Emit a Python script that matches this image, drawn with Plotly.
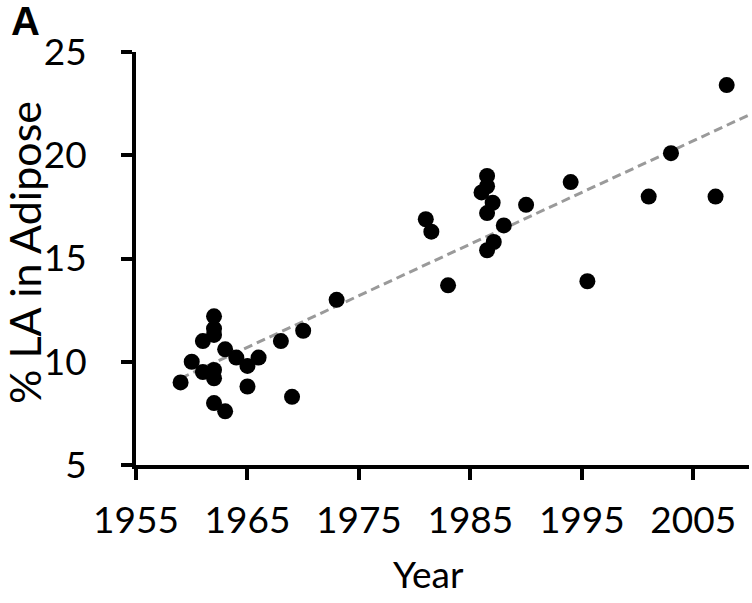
import plotly.graph_objects as go

# data
years = [1959, 1960, 1961, 1961, 1962, 1962, 1962, 1962, 1962, 1962,
         1963, 1963, 1964, 1965, 1965, 1966, 1968, 1969, 1970, 1973,
         1981, 1981.5, 1983, 1986, 1986.5, 1986.5, 1986.5, 1987, 1986.5, 1987.1,
         1988, 1990, 1994, 1995.5, 2001, 2003, 2007, 2008]
la_pct = [9.0, 10.0, 11.0, 9.5, 12.2, 11.6, 11.3, 9.6, 9.2, 8.0,
          7.6, 10.6, 10.2, 9.8, 8.8, 10.2, 11.0, 8.3, 11.5, 13.0,
          16.9, 16.3, 13.7, 18.2, 19.0, 18.5, 17.2, 17.7, 15.4, 15.8,
          16.6, 17.6, 18.7, 13.9, 18.0, 20.1, 18.0, 23.4]

trend_x = [1959, 2010]
trend_y = [9.2, 21.95]

font = "Lato, 'Open Sans', sans-serif"

fig = go.Figure()
fig.add_trace(go.Scatter(x=trend_x, y=trend_y, mode='lines',
                         line=dict(color='#9a9a9a', width=3, dash='9px,5px'),
                         hoverinfo='skip', showlegend=False))
fig.add_trace(go.Scatter(x=years, y=la_pct, mode='markers',
                         marker=dict(color='black', size=16),
                         cliponaxis=False, showlegend=False))

fig.update_layout(
    width=752, height=603,
    margin=dict(l=136, r=3, t=52, b=138),
    plot_bgcolor='white', paper_bgcolor='white',
    font=dict(family=font, color='black', size=38),
)
fig.update_xaxes(range=[1955, 2010], tick0=1955, dtick=10,
                 showline=True, linecolor='black', linewidth=4,
                 ticks='outside', ticklen=11, tickwidth=4, tickcolor='black',
                 ticklabelstandoff=9, showgrid=False, zeroline=False,
                 automargin=False, tickfont=dict(size=37))
fig.update_yaxes(range=[5, 25], tick0=5, dtick=5,
                 showline=True, linecolor='black', linewidth=4,
                 ticks='outside', ticklen=11, tickwidth=4, tickcolor='black',
                 ticklabelstandoff=27, showgrid=False, zeroline=False,
                 automargin=False, tickfont=dict(size=37))

# axis titles placed as in the reference (page pixels)
fig.add_annotation(text='Year', xref='paper', yref='paper',
                   x=(428 - 136) / 613, y=-(573 - 465) / 413,
                   xanchor='center', yanchor='middle', showarrow=False,
                   font=dict(size=37))
fig.add_annotation(text='% LA in Adipose', xref='paper', yref='paper',
                   x=-(136 - 24) / 613, y=(465 - 253) / 413, textangle=-90,
                   xanchor='center', yanchor='middle', showarrow=False,
                   font=dict(size=43))
fig.add_annotation(text='<b>A</b>', xref='paper', yref='paper',
                   x=-(136 - 9) / 613, y=(465 - 21) / 413,
                   xanchor='left', yanchor='middle', showarrow=False,
                   font=dict(size=40, family="'Liberation Sans', Arial, sans-serif"))

# drop the page's default body margin so the figure fills the window
fig.write_html("out.html", config={'displayModeBar': False},
               post_script="document.body.style.margin='0px';")
